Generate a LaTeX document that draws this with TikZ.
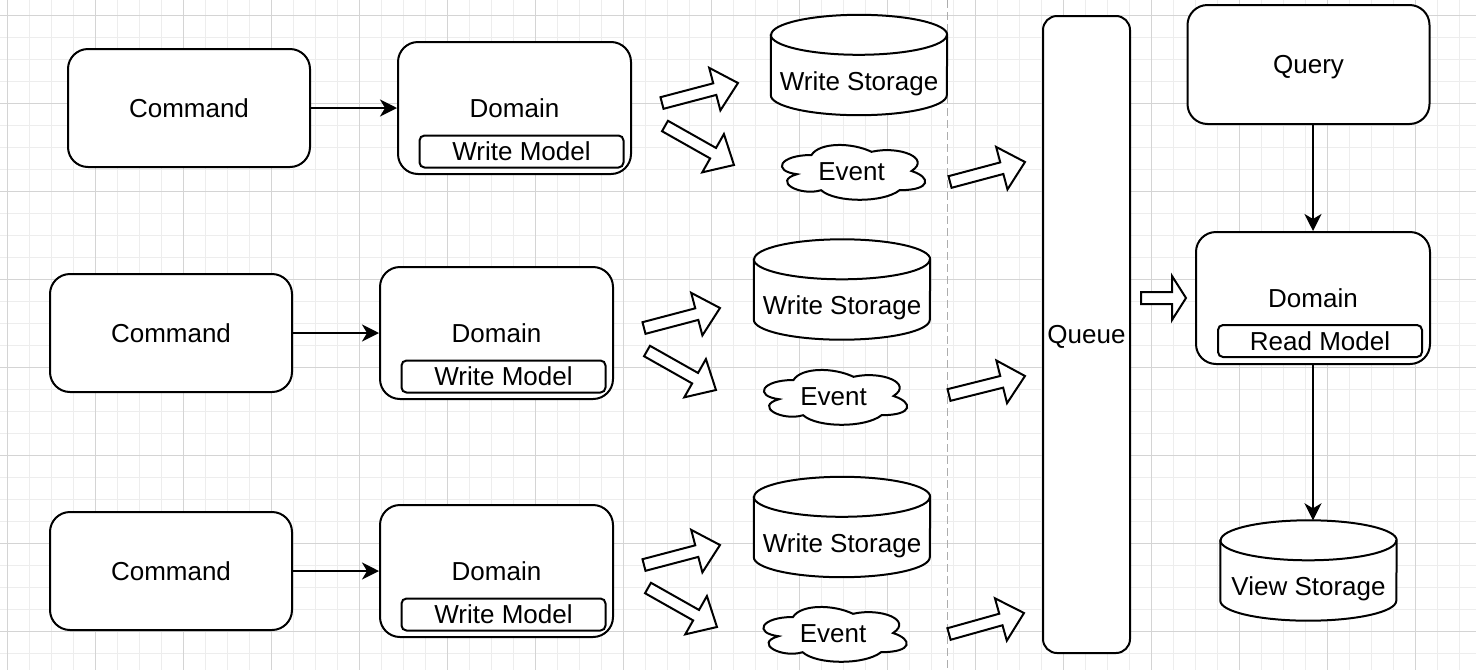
\documentclass[tikz,border=0pt]{standalone}
\usepackage{fontspec}
\setmainfont{Liberation Sans}
\usetikzlibrary{shapes,arrows.meta,positioning,calc}

\tikzset{
  gridminor/.style={draw=black!7, line width=1pt},
  gridmajor/.style={draw=black!17, line width=1pt},
  txt/.style={font=\fontsize{26}{30}\selectfont, text height=18.6pt, text depth=0pt, inner sep=2pt},
  box/.style={txt, draw, fill=white, line width=2pt, rounded corners=20pt, minimum width=242pt, minimum height=118pt},
  dombox/.style={box, minimum width=233pt, minimum height=132pt},
  model/.style={txt, draw, fill=white, line width=2pt, rounded corners=5pt, minimum width=204pt, minimum height=32pt},
  store/.style={minimum width=176pt, minimum height=100pt, inner sep=0pt},
  queue/.style={txt, draw, fill=white, line width=2pt, rounded corners=14pt, minimum width=87pt, minimum height=637pt},
  arr/.style={line width=2pt, -{Stealth[length=17pt,width=17pt,inset=5pt]}},
  hollow/.style={draw, fill=white, line width=2pt, line join=miter},
  divider/.style={draw=black!32, line width=1.5pt, dash pattern=on 8pt off 4pt},
}

% cylinder with its label a bit below the middle
\newcommand\storage[3]{%
  \node[store] (#1) at (#2) {};
  \draw[hollow] ($(#1.north west)+(0pt,-20pt)$) -- ($(#1.south west)+(0pt,20pt)$)
    arc[start angle=180, end angle=360, x radius=88pt, y radius=20pt]
    -- ($(#1.north east)+(0pt,-20pt)$)
    arc[start angle=0, end angle=180, x radius=88pt, y radius=20pt] -- cycle;
  \draw[line width=2pt] ($(#1.north west)+(0pt,-20pt)$) arc[start angle=180, end angle=360, x radius=88pt, y radius=20pt];
  \node[txt] (#1-l) at ($(#1.center)+(0pt,-16pt)$) {#3};}

% cloud outline in a 160x64 box, text on top
\newcommand\eventcloud[2]{%
  \draw[hollow, shift={(#2)}, x=160pt, y=-64pt, shift={(-0.5,-0.5)}]
    (0.25,0.25) .. controls (0.05,0.25) and (0,0.5) .. (0.16,0.55)
    .. controls (0,0.66) and (0.18,0.9) .. (0.31,0.8)
    .. controls (0.4,1) and (0.7,1) .. (0.8,0.8)
    .. controls (1,0.8) and (1,0.6) .. (0.875,0.5)
    .. controls (1,0.3) and (0.8,0.1) .. (0.625,0.2)
    .. controls (0.5,0.05) and (0.3,0.05) .. (0.25,0.25) -- cycle;
  \node[txt] (#1) at (#2) {Event};}

% hollow block arrow from tail #2 to tip #3, head length #1
\newcommand\blockarrow[3][24]{%
  \path let \p1=($(#3)-(#2)$) in
    \pgfextra{\pgfmathsetmacro\baang{atan2(\y1,\x1)}\global\let\baang\baang
              \pgfmathsetmacro\balen{veclen(\x1,\y1)}\global\let\balen\balen};
  \begin{scope}[shift={(#2)}, rotate=\baang, x=1pt, y=1pt]
    \draw[hollow] (0,-6) -- (\balen-#1,-6) -- (\balen-#1,-22) -- (\balen,0)
      -- (\balen-#1,22) -- (\balen-#1,6) -- (0,6) -- cycle;
  \end{scope}}

\begin{document}
\begin{tikzpicture}[x=1pt, y=-1pt]

\path[use as bounding box, fill=white] (0,0) rectangle (1476,670);
\foreach \gx in {7,29,...,1476} \draw[gridminor] (\gx,0) -- (\gx,670);
\foreach \gy in {15,37,...,670} \draw[gridminor] (0,\gy) -- (1476,\gy);
\foreach \gx in {7,95,...,1476} \draw[gridmajor] (\gx,0) -- (\gx,670);
\foreach \gy in {15,103,...,670} \draw[gridmajor] (0,\gy) -- (1476,\gy);

\coordinate (top) at (947.5,0);
\coordinate (bot) at (947.5,670);
\draw[divider] (top) -- (bot);

% write side
\node[box] (cmd1) at (189,108) {Command};
\node[box] (cmd2) at (171,333) {Command};
\node[box] (cmd3) at (171,571) {Command};

\node[dombox] (dom1) at (514.5,108) {Domain};
\node[dombox] (dom2) at (496.5,333) {Domain};
\node[dombox] (dom3) at (496.5,571) {Domain};
\node[model] (wm1) at ($(dom1)+(7,43.5)$) {Write Model};
\node[model] (wm2) at ($(dom2)+(7,43.5)$) {Write Model};
\node[model] (wm3) at ($(dom3)+(7,43.5)$) {Write Model};

\draw[arr] (cmd1) -- (dom1);
\draw[arr] (cmd2) -- (dom2);
\draw[arr] (cmd3) -- (dom3);

\storage{ws1}{859,65}{Write Storage}
\storage{ws2}{842,289.5}{Write Storage}
\storage{ws3}{842,527}{Write Storage}

\eventcloud{ev1}{851.5,171}
\eventcloud{ev2}{833.5,396}
\eventcloud{ev3}{833,633}

\coordinate (t1a) at (662,103);  \coordinate (h1a) at (738,83);
\coordinate (t1b) at (665,126);  \coordinate (h1b) at (734,165);
\coordinate (t1c) at (950,182);  \coordinate (h1c) at (1025,162);
\coordinate (t2a) at (644,328);  \coordinate (h2a) at (720,308);
\coordinate (t2b) at (647,351);  \coordinate (h2b) at (716,390);
\coordinate (t2c) at (949,395);  \coordinate (h2c) at (1025,376);
\coordinate (t3a) at (644,565);  \coordinate (h3a) at (720,545);
\coordinate (t3b) at (648,588);  \coordinate (h3b) at (717,627);
\coordinate (t3c) at (949,634);  \coordinate (h3c) at (1024,613);
\blockarrow{t1a}{h1a} \blockarrow{t1b}{h1b} \blockarrow{t1c}{h1c}
\blockarrow{t2a}{h2a} \blockarrow{t2b}{h2b} \blockarrow{t2c}{h2c}
\blockarrow{t3a}{h3a} \blockarrow{t3b}{h3b} \blockarrow{t3c}{h3c}

\node[queue] (q) at (1086.5,334.5) {Queue};

% read side
\node[box, minimum height=119pt] (qry) at (1308.5,64.5) {Query};
\node[dombox, minimum width=234pt] (rdom) at (1313,298) {Domain};
\node[model] (rm) at ($(rdom)+(7,43)$) {Read Model};
\storage{vs}{1308.5,570.5}{View Storage}

\coordinate (tq) at (1141,298);
\coordinate (hq) at (1186,298);
\blockarrow[14]{tq}{hq}

\draw[arr] (qry.south -| rdom) -- (rdom);
\draw[arr] (rdom) -- (rdom |- vs.north);

\end{tikzpicture}
\end{document}
